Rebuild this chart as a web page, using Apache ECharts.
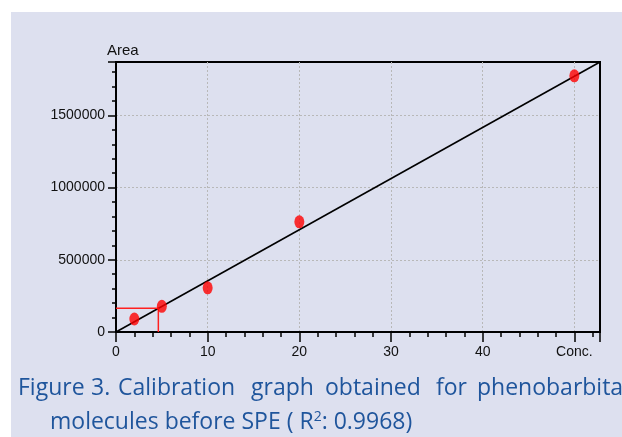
<!DOCTYPE html>
<html>
<head>
<meta charset="utf-8">
<script src="https://cdn.jsdelivr.net/npm/echarts@6/dist/echarts.min.js"></script>
<style>html,body{margin:0;padding:0;background:#fff;}#c{width:622px;height:437px;}</style>
</head>
<body>
<div id="c"></div>
<script>
// ---- data ----
const concentrations = [2, 5, 10, 20, 50];
const areas = [90000, 178000, 306000, 763000, 1774000];
const fitX = [0, 52.8];
const fitY = [0, 1870000];
const crossX = [0, 4.62, 4.62];
const crossY = [164000, 164000, 0];
const xTickLabels = {0: '0', 10: '10', 20: '20', 30: '30', 40: '40', 50: 'Conc.'};
const yTickLabels = {0: '0', 500000: '500000', 1000000: '1000000', 1500000: '1500000'};
const yAxisTitle = 'Area';
const captionLine1 = ['Figure', '3.', 'Calibration', 'graph', 'obtained', 'for', 'phenobarbita'];
const captionLine2 = 'molecules before SPE ( R{sup|2}: 0.9968)';

// ---- chart ----
const chart = echarts.init(document.getElementById('c'), null, {renderer: 'canvas'});
const axisFont = "Liberation Sans";
const capFont = "Open Sans";
const capColor = '#1f559c';
const wordX = [18, 91, 118, 251, 325, 436, 477];

const graphics = [
  {type: 'rect', shape: {x: 11, y: 12, width: 611, height: 425}, style: {fill: '#dde0ef'}, z: -10, silent: true},
  {type: 'text', x: 107, y: 43, style: {text: yAxisTitle, fontFamily: axisFont, fontSize: 15, fill: '#111'}, z: 10}
];
captionLine1.forEach((w, i) => {
  graphics.push({type: 'text', x: wordX[i], y: 377, style: {text: w, fontFamily: capFont, fontSize: 23, fill: capColor}, z: 10});
});
graphics.push({
  type: 'text', x: 50, y: 410,
  style: {
    text: captionLine2,
    fontFamily: capFont, fontSize: 23, fill: capColor,
    rich: {sup: {fontSize: 14, fontFamily: capFont, fill: capColor, verticalAlign: 'top', padding: [0, 0, 10, 0]}}
  }, z: 10
});

const mkX = (idx, interval, tickLen, showLabel, showSplit) => ({
  type: 'value', position: 'bottom', gridIndex: 0,
  min: 0, max: 52.8, interval: interval,
  axisLine: {show: idx === 0, onZero: false, lineStyle: {color: '#000', width: 2}},
  axisTick: {show: true, length: tickLen, lineStyle: {color: '#000', width: 1.5}},
  axisLabel: {show: showLabel, margin: 13, fontFamily: axisFont, fontSize: 14, color: '#111',
    formatter: v => (xTickLabels[v] !== undefined ? xTickLabels[v] : '')},
  splitLine: {show: showSplit, showMinLine: false, showMaxLine: false, lineStyle: {color: '#b8b8b8', type: [2, 2], width: 1}}
});
const mkY = (idx, interval, tickLen, showLabel, showSplit) => ({
  type: 'value', position: 'left', gridIndex: 0,
  min: 0, max: 1870000, interval: interval,
  axisLine: {show: idx === 0, onZero: false, lineStyle: {color: '#000', width: 2}},
  axisTick: {show: true, length: tickLen, lineStyle: {color: '#000', width: 1.5}},
  axisLabel: {show: showLabel, margin: 11, fontFamily: axisFont, fontSize: 14, color: '#111',
    formatter: v => (yTickLabels[v] !== undefined ? yTickLabels[v] : '')},
  splitLine: {show: showSplit, showMinLine: false, showMaxLine: false, lineStyle: {color: '#b8b8b8', type: [2, 2], width: 1}}
});

chart.setOption({
  animation: false,
  backgroundColor: '#ffffff',
  grid: {left: 116, right: 22, top: 62, bottom: 105, show: true, borderColor: '#000', borderWidth: 2, backgroundColor: 'transparent'},
  xAxis: [mkX(0, 10, 10, true, true), mkX(1, 2, 5, false, false)],
  yAxis: [mkY(0, 500000, 8, true, true), mkY(1, 100000, 4, false, false)],
  graphic: graphics,
  series: [
    {type: 'line', xAxisIndex: 0, yAxisIndex: 0, data: fitX.map((x, i) => [x, fitY[i]]),
      showSymbol: false, symbol: 'none', lineStyle: {color: '#000', width: 1.6}, clip: true, z: 2},
    {type: 'line', xAxisIndex: 0, yAxisIndex: 0, data: crossX.map((x, i) => [x, crossY[i]]),
      showSymbol: false, symbol: 'none', lineStyle: {color: '#ff2020', width: 1.5}, z: 2},
    {type: 'scatter', xAxisIndex: 0, yAxisIndex: 0, data: concentrations.map((x, i) => [x, areas[i]]),
      symbol: 'circle', symbolSize: [10, 13], itemStyle: {color: '#ff0000'}, z: 3}
  ]
});
</script>
</body>
</html>
